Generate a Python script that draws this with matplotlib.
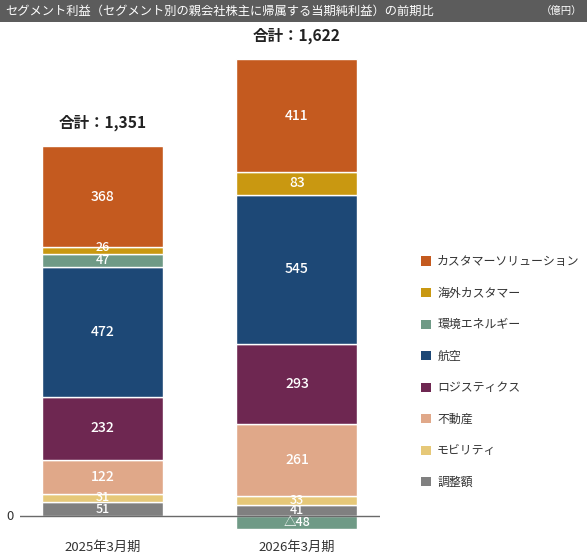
import matplotlib
matplotlib.use("Agg")
import matplotlib.pyplot as plt
from matplotlib.patches import Patch, Rectangle
import numpy as np

plt.rcParams['font.family'] = ['Noto Sans CJK JP', 'DejaVu Sans']

title = "セグメント利益（セグメント別の親会社株主に帰属する当期純利益）の前期比"
unit = "（億円）"
periods = ["2025年3月期", "2026年3月期"]
totals = [1351, 1622]
# stack order from bottom to top
segments = ["調整額", "モビリティ", "不動産", "ロジスティクス", "航空",
            "環境エネルギー", "海外カスタマー", "カスタマーソリューション"]
values = {
    "調整額": [51, 41],
    "モビリティ": [31, 33],
    "不動産": [122, 261],
    "ロジスティクス": [232, 293],
    "航空": [472, 545],
    "環境エネルギー": [47, -48],
    "海外カスタマー": [26, 83],
    "カスタマーソリューション": [368, 411],
}
colors = {
    "調整額": "#808080",
    "モビリティ": "#E6C878",
    "不動産": "#E0A889",
    "ロジスティクス": "#6E2751",
    "航空": "#1D4876",
    "環境エネルギー": "#6F9A86",
    "海外カスタマー": "#C99811",
    "カスタマーソリューション": "#C45A1F",
}

W, H = 587, 554
fig = plt.figure(figsize=(W/100, H/100), dpi=100)

# title bar
fig.patches.append(Rectangle((0, 1 - 22/H), 1, 22/H, transform=fig.transFigure,
                             facecolor="#5c5c5c", edgecolor="none", zorder=0))
fig.text(5/W, 1 - 11/H, title, color="white", fontsize=8.8, va="center", ha="left")
fig.text(582/W, 1 - 11/H, unit, color="white", fontsize=7.5, va="center", ha="right")

ax = fig.add_axes([20/W, (H-540)/H, 360/W, 510/H])
x = np.arange(len(periods))
width = 0.622
pos = np.zeros(len(periods))
neg = np.zeros(len(periods))
for seg in segments:
    vals = np.array(values[seg], dtype=float)
    bottoms = np.where(vals >= 0, pos, neg)
    ax.bar(x, vals, width, bottom=bottoms, color=colors[seg],
           edgecolor="white", linewidth=1.0, zorder=2)
    for i, v in enumerate(vals):
        cy = bottoms[i] + v/2
        lab = f"{int(v)}" if v >= 0 else f"△{int(-v)}"
        fs = 10 if abs(v) >= 60 else 9
        dy = 2 if abs(v) < 30 else 0
        ax.annotate(lab, (x[i], cy), xytext=(0, dy), textcoords="offset points",
                    color="white", fontsize=fs, ha="center",
                    va="center", fontweight="medium", zorder=4)
    pos = np.where(vals >= 0, pos + vals, pos)
    neg = np.where(vals < 0, neg + vals, neg)

for i, t in enumerate(totals):
    ax.annotate(f"合計：{t:,}", (x[i], pos[i]), xytext=(0, 11),
                textcoords="offset points", ha="center", va="bottom",
                fontsize=11.2, fontweight="bold", color="#222222")

ax.axhline(0, color="#6a6a6a", linewidth=1.0, zorder=3)
ax.set_xlim(-0.424, 1.427)
ax.set_ylim(-87.6, 1773.7)
ax.axis("off")
fig.text(10/W, (H-516)/H, "0", fontsize=9.5, ha="center", va="center", color="#333333")
for i, p in enumerate(periods):
    ax.annotate(p, (x[i], 0), xytext=(0, -22.5), textcoords="offset points",
                ha="center", va="center", fontsize=9.5, color="#333333",
                annotation_clip=False)

handles = [Patch(facecolor=colors[s], edgecolor="none", label=s) for s in segments[::-1]]
fig.legend(handles=handles, loc="center left", bbox_to_anchor=(421/W, (H-372)/H),
           frameon=False, fontsize=8.6, handlelength=0.8, handleheight=0.8,
           handletextpad=0.55, labelspacing=1.55, borderpad=0, borderaxespad=0,
           labelcolor="#333333")

fig.savefig("out.png", dpi=100)
